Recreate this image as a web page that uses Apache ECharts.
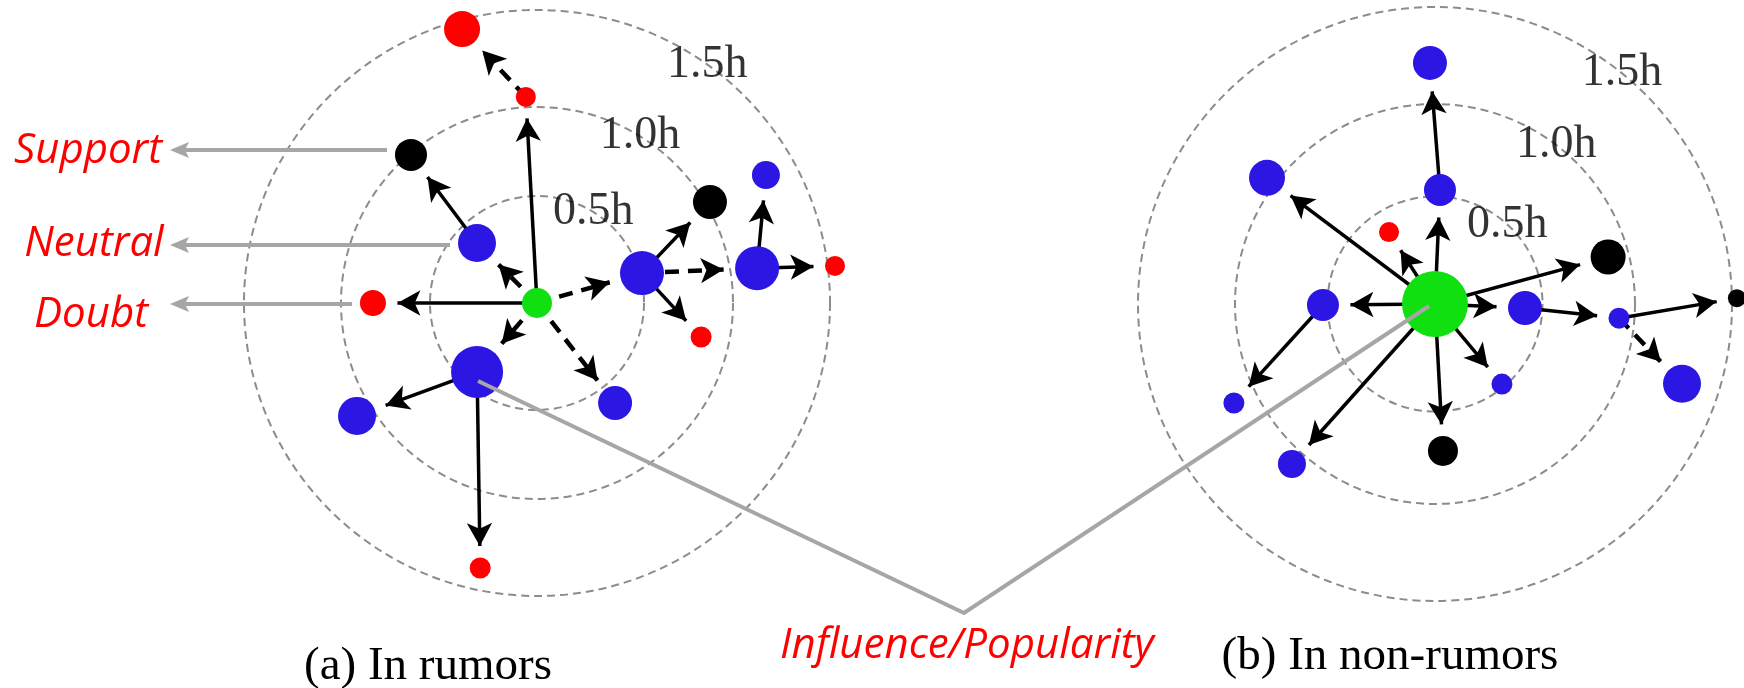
<!DOCTYPE html>
<html>
<head>
<meta charset="utf-8">
<script src="https://cdn.jsdelivr.net/npm/echarts@6/dist/echarts.min.js"></script>
<style>html,body{margin:0;padding:0;background:#fff}#c{width:1744px;height:688px}</style>
</head>
<body>
<div id="c"></div>
<script>
// ---------------- DATA ----------------
// ring tick labels and ring radii (in units of h)
const ringTickLabels = ['0.5h', '1.0h', '1.5h'];
const leftRings  = [0.546, 1.0, 1.495];
const rightRings = [0.543, 1.01, 1.5];

// (a) In rumors : node distance from source (h), direction (deg), stance, influence
const leftDist   = [0, 1.053, 1.449, 0.992, 0.433, 0.837, 0.557, 1.022, 1.338, 1.137, 1.532, 0.855, 0.466, 1.084, 0.647, 1.383];
const leftAngle  = [0, 93.1, 105.3, 130.4, 135.0, 180.0, 15.9, 30.3, 29.2, 9.0, 7.1, 348.3, 229.0, 212.1, 308.0, 257.9];
const leftStance = ['source','doubt','doubt','support','neutral','doubt','neutral','support','neutral','neutral','doubt','doubt','neutral','neutral','neutral','doubt'];
const leftInfluence = [30, 20, 36, 32, 38, 26, 44, 34, 28, 44, 20, 21, 52, 38, 34, 21];
const leftEdges = [
  [0, 1, 'solid'], [1, 2, 'dashed'], [0, 4, 'dashed'], [4, 3, 'solid'], [0, 5, 'solid'],
  [0, 6, 'dashed'], [6, 7, 'solid'], [6, 9, 'dashed'], [9, 8, 'solid'], [9, 10, 'solid'],
  [6, 11, 'solid'], [0, 12, 'dashed'], [0, 14, 'dashed'], [12, 13, 'solid'], [12, 15, 'solid']
];

// (b) In non-rumors
const rightDist   = [0, 0.576, 1.218, 1.061, 0.431, 0.906, 0.566, 1.132, 0.455, 0.932, 1.525, 1.311, 0.527, 0.743, 1.084];
const rightAngle  = [0, 87.5, 91.2, 143.1, 122.6, 15.2, 180.5, 206.2, 357.5, 355.6, 1.1, 342.1, 309.9, 273.1, 228.2];
const rightStance = ['source','neutral','neutral','neutral','doubt','support','neutral','neutral','neutral','neutral','support','neutral','neutral','support','neutral'];
const rightInfluence = [66, 32, 34, 36, 20, 35, 32, 21, 34, 21, 18, 38, 21, 30, 28];
const rightEdges = [
  [0, 1, 'solid'], [1, 2, 'solid'], [0, 3, 'solid'], [0, 4, 'solid'], [0, 5, 'solid'],
  [0, 6, 'solid'], [6, 7, 'solid'], [0, 8, 'solid'], [8, 9, 'solid'], [9, 10, 'solid'],
  [9, 11, 'dashed'], [0, 12, 'solid'], [0, 13, 'solid'], [0, 14, 'solid']
];

const stanceLabels = ['Support', 'Neutral', 'Doubt'];
const stanceExampleNode = [3, 4, 5];          // nodes of panel (a) pointed at
const influenceText = 'Influence/Popularity';
const panelTitles = ['(a) In rumors', '(b) In non-rumors'];

// ---------------- STYLE / LAYOUT ----------------
const STANCE_COLOR = { source: '#10e010', support: '#000000', neutral: '#2b16e3', doubt: '#ff0000' };
const ARROW_W = 19, ARROW_L = 23;
const PANELS = [
  { center: [537, 303], radius: 294, labelAngles: [58.3, 58.3, 54.5] },
  { center: [1435, 304], radius: 297, labelAngles: [47.7, 52.7, 51.0] }
];
const SERIF = '"Liberation Serif", "Times New Roman", "DejaVu Serif", serif';
const SANS = '"Open Sans", "Noto Sans", sans-serif';
const GREY = '#a6a6a6';

function ringRender(params, api) {
  const c = api.coord([0, 0]);
  const p = api.coord([api.value(0), 0]);
  const r = Math.hypot(p[0] - c[0], p[1] - c[1]);
  return {
    type: 'circle', silent: true,
    shape: { cx: c[0], cy: c[1], r: r },
    style: { fill: 'none', stroke: '#8c8c8c', lineWidth: 2, lineDash: [8, 5] }
  };
}

function panelSeries(pi, dist, angle, stance, infl, edges, rings) {
  const names = dist.map((_, i) => 'p' + pi + '_' + i);
  return [
    { type: 'custom', coordinateSystem: 'polar', polarIndex: pi, silent: true, z: 1,
      data: rings.map(r => [r, 0]), renderItem: ringRender },
    { type: 'scatter', coordinateSystem: 'polar', polarIndex: pi, silent: true, z: 3, clip: false,
      symbolSize: 0,
      data: rings.map((r, i) => ({ value: [r, PANELS[pi].labelAngles[i]], label: { formatter: ringTickLabels[i] } })),
      label: { show: true, position: 'inside', color: '#000', fontFamily: SERIF, fontSize: 46 } },
    { type: 'graph', coordinateSystem: 'polar', polarIndex: pi, layout: 'none', silent: true, z: 2,
      data: dist.map((d, i) => ({ name: names[i], value: [d, angle[i]], symbolSize: infl[i] + ARROW_L, itemStyle: { opacity: 0 } })),
      links: edges.map(([s, t, k]) => ({
        source: names[s], target: names[t],
        lineStyle: k === 'dashed' ? { type: [14, 9], width: 4.5 } : { type: 'solid', width: 3.5 }
      })),
      edgeSymbol: ['none', 'arrow'], edgeSymbolSize: [0, [ARROW_W, ARROW_L]],
      lineStyle: { color: '#000', opacity: 1, width: 3.5, curveness: 0 },
      label: { show: false }, emphasis: { disabled: true } },
    { type: 'scatter', coordinateSystem: 'polar', polarIndex: pi, silent: true, z: 5, clip: false,
      data: dist.map((d, i) => ({ value: [d, angle[i]], symbolSize: infl[i], itemStyle: { color: STANCE_COLOR[stance[i]], opacity: 1 } })) }
  ];
}

const chart = echarts.init(document.getElementById('c'), null, { renderer: 'canvas', width: 1744, height: 688 });
chart.setOption({
  animation: false,
  backgroundColor: '#ffffff',
  polar: PANELS.map(p => ({ center: p.center, radius: p.radius })),
  radiusAxis: [0, 1].map(i => ({ polarIndex: i, type: 'value', min: 0, max: 1.5, show: false })),
  angleAxis: [0, 1].map(i => ({ polarIndex: i, type: 'value', min: 0, max: 360, startAngle: 0, clockwise: false, show: false })),
  series: [].concat(
    panelSeries(0, leftDist, leftAngle, leftStance, leftInfluence, leftEdges, leftRings),
    panelSeries(1, rightDist, rightAngle, rightStance, rightInfluence, rightEdges, rightRings)
  )
});

// ---------------- ANNOTATIONS ----------------
const px = (pi, d, a) => chart.convertToPixel({ polarIndex: pi }, [d, a]);
const graphics = [];
const TIP_X = 170, HEAD_L = 19, HEAD_H = 8;
const textCX = [88, 94, 91], lineDY = [-5, 2, 1], textDY = [1, -1, 11];
stanceLabels.forEach((lab, k) => {
  const n = stanceExampleNode[k];
  const p = px(0, leftDist[n], leftAngle[n]);
  const y = p[1] + lineDY[k];
  const x0 = p[0] - leftInfluence[n] / 2 - 8;
  graphics.push({ type: 'line', z: 100, silent: true,
    shape: { x1: x0, y1: y, x2: TIP_X + HEAD_L - 4, y2: y },
    style: { stroke: GREY, lineWidth: 4 } });
  graphics.push({ type: 'polygon', z: 100, silent: true,
    shape: { points: [[TIP_X, y], [TIP_X + HEAD_L, y - HEAD_H], [TIP_X + HEAD_L - 4, y], [TIP_X + HEAD_L, y + HEAD_H]] },
    style: { fill: GREY } });
  graphics.push({ type: 'text', z: 100, silent: true, x: textCX[k], y: y + textDY[k],
    style: { text: lab, fill: '#ff0000', font: 'italic 42px ' + SANS, align: 'center', verticalAlign: 'middle' } });
});
const pa = px(0, leftDist[12], leftAngle[12]);
const pb = px(1, rightDist[0], rightAngle[0]);
graphics.push({ type: 'polyline', z: 100, silent: true,
  shape: { points: [[pa[0] + 1, pa[1] + 9], [964, 613], [pb[0] - 6, pb[1] + 2]] },
  style: { stroke: GREY, lineWidth: 4, fill: null } });
graphics.push({ type: 'text', z: 100, silent: true, x: 967, y: 646,
  style: { text: influenceText, fill: '#ff0000', font: 'italic 42px ' + SANS, align: 'center', verticalAlign: 'middle' } });
graphics.push({ type: 'text', z: 100, silent: true, x: 428, y: 667,
  style: { text: panelTitles[0], fill: '#000', font: '47px ' + SERIF, align: 'center', verticalAlign: 'middle' } });
graphics.push({ type: 'text', z: 100, silent: true, x: 1390, y: 657,
  style: { text: panelTitles[1], fill: '#000', font: '47px ' + SERIF, align: 'center', verticalAlign: 'middle' } });
chart.setOption({ graphic: graphics });
</script>
</body>
</html>
